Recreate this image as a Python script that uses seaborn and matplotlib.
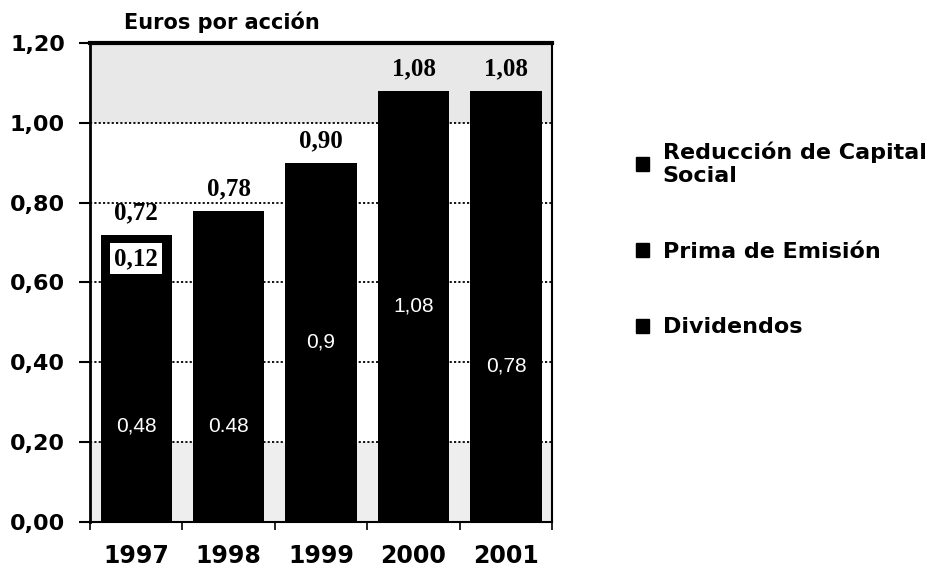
import matplotlib
matplotlib.use('Agg')
import matplotlib.pyplot as plt
import seaborn as sns
import pandas as pd
from matplotlib.patches import Patch

# ---- data ----
years = ['1997', '1998', '1999', '2000', '2001']
dividendos = [0.48, 0.48, 0.90, 1.08, 0.78]
prima = [0.12, 0.30, 0.00, 0.00, 0.30]
reduccion = [0.12, 0.00, 0.00, 0.00, 0.00]
total_labels = ['0,72', '0,78', '0,90', '1,08', '1,08']
div_labels = ['0,48', '0.48', '0,9', '1,08', '0,78']
reduccion_labels = ['0,12', '', '', '', '']
yticks = [0.0, 0.2, 0.4, 0.6, 0.8, 1.0, 1.2]
ytick_labels = ['0,00', '0,20', '0,40', '0,60', '0,80', '1,00', '1,20']
legend_labels = ['Reducción de Capital\nSocial', 'Prima de Emisión', 'Dividendos']
title = 'Euros por acción'

sns.set_theme(style='white')
plt.rcParams['font.family'] = ['DejaVu Sans']
plt.rcParams['text.color'] = 'black'
plt.rcParams['xtick.color'] = 'black'
plt.rcParams['ytick.color'] = 'black'
plt.rcParams['axes.labelcolor'] = 'black'

df = pd.DataFrame({'year': years, 'div': dividendos, 'prima': prima, 'red': reduccion})
df['lvl2'] = df['div'] + df['prima']
df['lvl3'] = df['lvl2'] + df['red']

fig = plt.figure(figsize=(9.52, 5.78), dpi=100)
ax = fig.add_axes([0.0945, 0.0969, 0.4855, 0.8287])

# faint scan-like shading bands
ax.axhspan(1.0, 1.2, color='#e8e8e8', zorder=0, lw=0)
ax.axhspan(0.0, 0.2, color='#eeeeee', zorder=0, lw=0)

for col in ['lvl3', 'lvl2', 'div']:
    sns.barplot(data=df, x='year', y=col, color='black', saturation=1,
                width=0.77, errorbar=None, ax=ax, zorder=3,
                edgecolor='black', linewidth=0)

ax.set_xlim(-0.5, 4.5)
ax.set_ylim(0, 1.2)
ax.set_xlabel('')
ax.set_ylabel('')

# gridlines
for y in yticks[1:-1]:
    ax.axhline(y, color='black', ls=(0, (1.2, 1.2)), lw=1.3, zorder=1)

# spines
for s in ['left', 'right', 'top', 'bottom']:
    ax.spines[s].set_visible(True)
    ax.spines[s].set_color('black')
ax.spines['top'].set_linewidth(3)
ax.spines['left'].set_linewidth(2)
ax.spines['right'].set_linewidth(1.5)
ax.spines['bottom'].set_linewidth(1.5)

ax.set_yticks(yticks)
ax.set_yticklabels(ytick_labels, fontsize=16, fontweight='bold')
ax.tick_params(axis='y', direction='out', length=8, width=1.5, pad=10, left=True)

ax.set_xticks(range(len(years)))
ax.set_xticklabels(years, fontsize=17, fontweight='bold')
ax.tick_params(axis='x', which='major', length=0, pad=16)
ax.set_xticks([i - 0.5 for i in range(len(years) + 1)], minor=True)
ax.tick_params(axis='x', which='minor', direction='out', length=6, width=1.2, bottom=True)

# labels
for i, y in enumerate(years):
    tot = df['lvl3'][i]
    ax.text(i, tot + 0.055, total_labels[i], ha='center', va='center',
            fontsize=18, fontweight='bold', family='Liberation Serif', color='black', zorder=5)
    ax.text(i, dividendos[i] / 2, div_labels[i], ha='center', va='center',
            fontsize=15, family='Liberation Sans', color='white', zorder=5)
    if reduccion_labels[i]:
        ax.text(i, df['lvl2'][i] + reduccion[i] / 2, reduccion_labels[i], ha='center', va='center',
                fontsize=18, fontweight='bold', family='Liberation Serif', color='black', zorder=5,
                bbox=dict(facecolor='white', edgecolor='none', pad=3))

fig.text(0.233, 0.962, title, ha='center', va='center', fontsize=15, fontweight='bold')

handles = [Patch(facecolor='black', edgecolor='black') for _ in legend_labels]
fig.legend(handles, legend_labels, loc='upper left', bbox_to_anchor=(0.668, 0.755),
           frameon=False, prop={'weight': 'bold', 'size': 16}, handlelength=0.6,
           handleheight=0.6, handletextpad=0.6, labelspacing=2.5, borderpad=0, borderaxespad=0)

fig.savefig('out.png', dpi=100)
